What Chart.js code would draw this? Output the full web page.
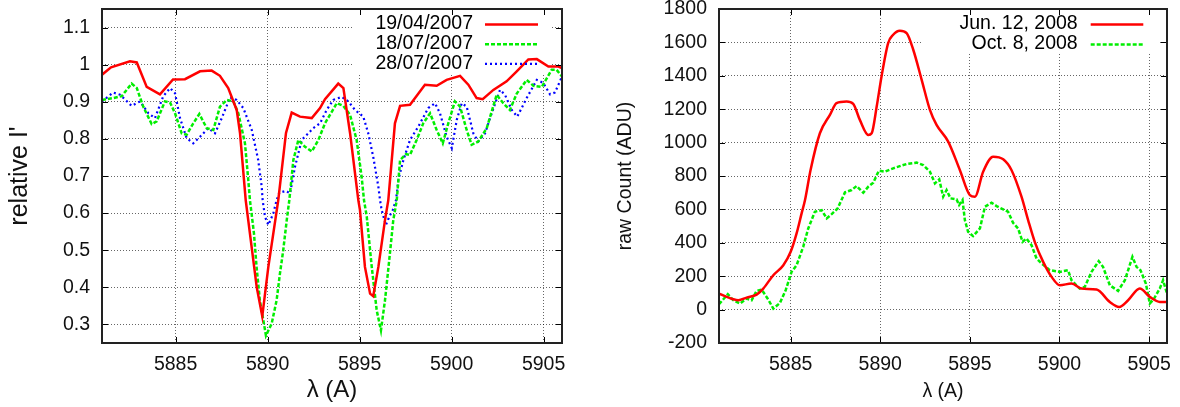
<!DOCTYPE html>
<html>
<head>
<meta charset="utf-8">
<script src="https://cdn.jsdelivr.net/npm/chart.js@4.4.0/dist/chart.umd.min.js"></script>
<style>
  html, body { margin: 0; padding: 0; background: #fff; }
  #wrap { position: relative; width: 1180px; height: 407px; }
  .panel { position: absolute; top: 0; width: 590px; height: 407px; }
</style>
</head>
<body>
<div id="wrap">
  <div class="panel" style="left:0"><canvas id="leftChart" width="590" height="407"></canvas></div>
  <div class="panel" style="left:590px"><canvas id="rightChart" width="590" height="407"></canvas></div>
</div>
<script>
// ---- data ----
const waveTicks = [5885, 5890, 5895, 5900, 5905];
const relTicks = [0.3, 0.4, 0.5, 0.6, 0.7, 0.8, 0.9, 1.0, 1.1];
const countTicks = [-200, 0, 200, 400, 600, 800, 1000, 1200, 1400, 1600, 1800];

// left panel: relative I'
const lamApr07 = [5881.0, 5881.49, 5882.52, 5882.89, 5883.43, 5884.15, 5884.86, 5885.51, 5886.33, 5886.96,
  5887.41, 5887.86, 5888.32, 5888.50, 5888.81, 5889.41, 5889.71, 5890.04, 5890.58, 5891.0,
  5891.31, 5891.76, 5892.40, 5892.85, 5893.12, 5893.84, 5894.12, 5894.48, 5894.93, 5895.02,
  5895.29, 5895.57, 5895.74, 5896.02, 5896.38, 5896.56, 5896.92, 5897.20, 5897.74, 5898.55,
  5899.19, 5899.73, 5900.46, 5900.91, 5901.36, 5901.69, 5902.27, 5902.99, 5903.54, 5904.17,
  5904.63, 5905.26, 5905.80, 5906.0];
const relApr07 = [0.973, 0.993, 1.009, 1.006, 0.94, 0.92, 0.96, 0.961, 0.982, 0.984,
  0.97, 0.937, 0.878, 0.816, 0.635, 0.40, 0.322, 0.455, 0.635, 0.816,
  0.871, 0.86, 0.856, 0.883, 0.907, 0.949, 0.937, 0.816, 0.635, 0.608,
  0.455, 0.383, 0.376, 0.455, 0.581, 0.635, 0.842, 0.889, 0.892, 0.946,
  0.943, 0.959, 0.97, 0.946, 0.91, 0.907, 0.932, 0.955, 0.982, 1.014,
  1.015, 0.995, 0.995, 0.991];

const lamJul18 = [5881.0, 5881.61, 5882.07, 5882.61, 5882.89, 5883.24, 5883.70, 5883.97, 5884.42, 5884.70,
  5884.97, 5885.33, 5885.60, 5885.96, 5886.29, 5886.69, 5887.05, 5887.41, 5887.78, 5888.14,
  5888.41, 5888.77, 5888.95, 5889.04, 5889.26, 5889.40, 5889.58, 5889.80, 5889.91, 5890.22,
  5890.49, 5890.67, 5890.85, 5891.04, 5891.18, 5891.40, 5891.67, 5892.03, 5892.40, 5892.76,
  5893.12, 5893.76, 5894.11, 5894.48, 5894.84, 5895.11, 5895.24, 5895.39, 5895.66, 5895.93,
  5896.16, 5896.38, 5896.61, 5896.83, 5897.02, 5897.20, 5897.52, 5897.74, 5898.10, 5898.46,
  5898.83, 5899.19, 5899.52, 5899.82, 5900.18, 5900.46, 5900.82, 5901.09, 5901.45, 5901.91,
  5902.45, 5902.81, 5903.17, 5903.54, 5904.08, 5904.45, 5904.90, 5905.44, 5905.71, 5906.0];
const relJul18 = [0.905, 0.91, 0.915, 0.949, 0.937, 0.887, 0.84, 0.847, 0.901, 0.898,
  0.869, 0.815, 0.811, 0.842, 0.867, 0.829, 0.824, 0.887, 0.905, 0.901,
  0.869, 0.788, 0.689, 0.635, 0.545, 0.455, 0.365, 0.302, 0.27, 0.302,
  0.365, 0.437, 0.5, 0.581, 0.635, 0.743, 0.797, 0.779, 0.766, 0.797,
  0.842, 0.896, 0.889, 0.865, 0.797, 0.698, 0.635, 0.59, 0.455, 0.338,
  0.284, 0.365, 0.473, 0.581, 0.635, 0.743, 0.759, 0.757, 0.797, 0.842,
  0.869, 0.824, 0.788, 0.842, 0.901, 0.887, 0.824, 0.784, 0.793, 0.829,
  0.919, 0.896, 0.878, 0.922, 0.959, 0.943, 0.94, 0.986, 0.986, 0.968];

const lamJul28 = [5881.0, 5881.61, 5881.98, 5882.61, 5883.07, 5883.52, 5883.88, 5884.33, 5884.70, 5884.97,
  5885.24, 5885.60, 5885.96, 5886.33, 5886.78, 5887.14, 5887.51, 5887.96, 5888.32, 5888.68,
  5889.14, 5889.49, 5889.68, 5889.73, 5889.86, 5890.04, 5890.31, 5890.49, 5890.64, 5891.0,
  5891.22, 5891.49, 5891.76, 5891.85, 5892.21, 5892.48, 5892.85, 5893.21, 5893.57, 5894.03,
  5894.39, 5894.75, 5895.20, 5895.47, 5895.74, 5896.02, 5896.11, 5896.20, 5896.43, 5896.61,
  5896.80, 5896.98, 5897.10, 5897.38, 5897.74, 5898.19, 5898.73, 5899.10, 5899.37, 5899.73,
  5900.01, 5900.28, 5900.55, 5900.82, 5901.18, 5901.45, 5901.82, 5902.18, 5902.63, 5902.90,
  5903.27, 5903.57, 5904.08, 5904.63, 5904.98, 5905.35, 5905.62, 5906.0];
const relJul28 = [0.901, 0.925, 0.919, 0.889, 0.901, 0.869, 0.856, 0.915, 0.937, 0.923,
  0.856, 0.802, 0.788, 0.806, 0.829, 0.815, 0.856, 0.912, 0.905, 0.883,
  0.824, 0.743, 0.671, 0.635, 0.59, 0.568, 0.599, 0.635, 0.655, 0.66,
  0.653, 0.725, 0.779, 0.797, 0.815, 0.829, 0.842, 0.878, 0.905, 0.913,
  0.901, 0.878, 0.86, 0.815, 0.752, 0.671, 0.635, 0.608, 0.568, 0.59,
  0.608, 0.635, 0.689, 0.743, 0.797, 0.833, 0.883, 0.896, 0.869, 0.806,
  0.775, 0.851, 0.896, 0.887, 0.815, 0.793, 0.815, 0.869, 0.932, 0.919,
  0.878, 0.86, 0.91, 0.959, 0.951, 0.92, 0.925, 0.968];

// right panel: raw count (ADU)
const lamJun08 = [5881.0, 5881.80, 5882.08, 5882.54, 5883.10, 5883.47, 5884.03, 5884.59, 5885.0, 5885.33,
  5885.61, 5885.80, 5886.11, 5886.63, 5887.19, 5887.56, 5888.12, 5888.49, 5888.86, 5889.33,
  5889.52, 5889.80, 5890.07, 5890.44, 5890.72, 5891.09, 5891.47, 5891.84, 5892.31, 5892.77,
  5893.14, 5893.79, 5894.44, 5895.0, 5895.28, 5895.74, 5896.30, 5896.86, 5897.32, 5897.88,
  5898.25, 5898.62, 5899.09, 5899.56, 5900.02, 5900.67, 5901.23, 5902.07, 5902.81, 5903.33,
  5903.83, 5904.48, 5905.04, 5905.60, 5906.0];
const cntJun08 = [96, 62, 56, 72, 90, 126, 206, 266, 346, 456,
  576, 656, 836, 1056, 1166, 1236, 1246, 1232, 1136, 1046,
  1056, 1216, 1396, 1596, 1646, 1670, 1656, 1556, 1376, 1196,
  1106, 1006, 836, 686, 676, 826, 916, 900, 836, 676,
  536, 406, 286, 196, 146, 156, 126, 120, 46, 16,
  56, 126, 76, 46, 46];

const lamOct08 = [5881.0, 5881.49, 5881.80, 5882.17, 5882.54, 5882.82, 5883.10, 5883.38, 5883.75, 5884.03,
  5884.40, 5884.72, 5885.05, 5885.33, 5885.70, 5885.98, 5886.35, 5886.73, 5887.01, 5887.29,
  5887.62, 5888.03, 5888.40, 5888.68, 5889.05, 5889.33, 5889.61, 5889.92, 5890.26, 5890.72,
  5891.47, 5892.03, 5892.39, 5892.77, 5893.05, 5893.29, 5893.51, 5893.70, 5893.92, 5894.26,
  5894.40, 5894.59, 5894.72, 5894.90, 5895.18, 5895.56, 5895.84, 5896.21, 5896.49, 5896.86,
  5897.13, 5897.41, 5897.69, 5897.94, 5898.16, 5898.44, 5898.72, 5899.0, 5899.46, 5900.02,
  5900.48, 5900.67, 5901.13, 5901.41, 5901.79, 5902.19, 5902.43, 5902.81, 5903.27, 5903.65,
  5904.07, 5904.30, 5904.52, 5904.82, 5905.04, 5905.28, 5905.60, 5905.78, 5906.0];
const cntOct08 = [32, 92, 56, 36, 66, 56, 112, 120, 60, 6,
  40, 116, 226, 266, 376, 486, 586, 596, 546, 572,
  606, 702, 716, 740, 700, 736, 760, 832, 826, 846,
  872, 880, 866, 826, 756, 780, 676, 716, 666, 660,
  626, 656, 536, 466, 440, 486, 616, 640, 620, 600,
  586, 520, 486, 406, 426, 386, 306, 276, 236, 226,
  236, 176, 126, 136, 226, 290, 256, 146, 112, 176,
  316, 256, 236, 156, 36, 66, 126, 176, 96];

// ---- helpers ----
const FONT = "'Liberation Sans', Arial, Helvetica, sans-serif";

function pts(xs, ys) {
  if (xs.length !== ys.length) throw new Error('length mismatch ' + xs.length + ' vs ' + ys.length);
  return xs.map((x, i) => ({ x: x, y: ys[i] }));
}

function fixTicks(values) {
  return function (scale) { scale.ticks = values.map(v => ({ value: v })); };
}

// gnuplot-like border, inward tick marks and key box
const gnuplotFrame = {
  id: 'gnuplotFrame',
  beforeDatasetsDraw(chart, args, opts) {
    const b = opts.keyBox;
    const ctx = chart.ctx;
    ctx.save();
    ctx.fillStyle = '#fff';
    ctx.fillRect(b.x0, b.y0, b.x1 - b.x0, b.y1 - b.y0);
    ctx.restore();
  },
  afterDraw(chart, args, opts) {
    const ctx = chart.ctx;
    const a = chart.chartArea;
    const sx = chart.scales.x, sy = chart.scales.y;
    ctx.save();
    // tick marks
    ctx.strokeStyle = '#000';
    ctx.lineWidth = 1;
    ctx.beginPath();
    sx.ticks.forEach(t => {
      const px = Math.round(sx.getPixelForValue(t.value)) + 0.5;
      ctx.moveTo(px, a.bottom); ctx.lineTo(px, a.bottom - 6);
      ctx.moveTo(px, a.top); ctx.lineTo(px, a.top + 6);
    });
    sy.ticks.forEach(t => {
      const py = Math.round(sy.getPixelForValue(t.value)) + 0.5;
      ctx.moveTo(a.left, py); ctx.lineTo(a.left + 6, py);
      ctx.moveTo(a.right, py); ctx.lineTo(a.right - 6, py);
    });
    ctx.stroke();
    // border
    ctx.strokeStyle = '#222';
    ctx.lineWidth = 2;
    ctx.strokeRect(a.left, a.top, a.right - a.left, a.bottom - a.top);
    // key
    const k = opts.key;
    ctx.font = k.size + 'px ' + FONT;
    ctx.fillStyle = '#000';
    ctx.textAlign = 'right';
    ctx.textBaseline = 'middle';
    chart.data.datasets.forEach((ds, i) => {
      const y = k.rows[i];
      ctx.fillText(ds.label, k.textRight, y);
      ctx.save();
      ctx.strokeStyle = ds.borderColor;
      ctx.lineWidth = ds.borderWidth;
      ctx.setLineDash(ds.borderDash || []);
      ctx.beginPath();
      ctx.moveTo(k.x0, y + 0.5);
      ctx.lineTo(k.x1, y + 0.5);
      ctx.stroke();
      ctx.restore();
    });
    ctx.restore();
  }
};

function makeChart(id, cfg) {
  return new Chart(document.getElementById(id), {
    type: 'line',
    data: { datasets: cfg.datasets },
    options: {
      responsive: false,
      animation: false,
      events: [],
      layout: { padding: { top: 9, right: cfg.padRight, left: 0, bottom: 0 } },
      elements: { point: { radius: 0 } },
      plugins: {
        legend: { display: false },
        tooltip: { enabled: false },
        gnuplotFrame: { keyBox: cfg.keyBox, key: cfg.key }
      },
      scales: {
        x: {
          type: 'linear',
          min: 5881, max: 5906,
          afterBuildTicks: fixTicks(waveTicks),
          afterFit(scale) { scale.height = 64; scale.paddingLeft = 0; scale.paddingRight = 0; },
          grid: { color: 'rgba(0,0,0,0.6)', lineWidth: 1, drawTicks: false },
          border: { display: false, dash: [1, 2] },
          ticks: { font: { family: FONT, size: 19.5 }, color: '#111', padding: 10, maxRotation: 0,
                   callback: v => String(v) },
          title: { display: true, text: 'λ (A)', color: '#111',
                   font: { family: FONT, size: cfg.xTitleSize, lineHeight: 1.2 }, padding: { bottom: cfg.xTitlePad, top: 0 } }
        },
        y: {
          type: 'linear',
          min: cfg.yMin, max: cfg.yMax,
          afterBuildTicks: fixTicks(cfg.yTicks),
          afterFit(scale) { scale.width = cfg.yWidth; scale.paddingTop = 0; scale.paddingBottom = 0; },
          grid: { color: 'rgba(0,0,0,0.6)', lineWidth: 1, drawTicks: false },
          border: { display: false, dash: [1, 2] },
          ticks: { font: { family: FONT, size: 19.5 }, color: '#111', padding: 12, callback: cfg.yFormat },
          title: { display: true, text: cfg.yTitle, color: '#111',
                   font: { family: FONT, size: cfg.yTitleSize, lineHeight: 1.2 }, padding: { top: cfg.yTitlePad, bottom: 0 } }
        }
      }
    },
    plugins: [gnuplotFrame]
  });
}

const RED = { borderColor: '#ff0000', borderWidth: 2.5, tension: 0, clip: 0 };
const GREEN = { borderColor: '#00ee00', borderWidth: 2.5, borderDash: [4, 2], tension: 0, clip: 0 };
const BLUE = { borderColor: '#0000ff', borderWidth: 2.2, borderDash: [2, 3], tension: 0, clip: 0 };

makeChart('leftChart', {
  datasets: [
    Object.assign({ label: '19/04/2007', data: pts(lamApr07, relApr07) }, RED),
    Object.assign({ label: '18/07/2007', data: pts(lamJul18, relJul18) }, GREEN),
    Object.assign({ label: '28/07/2007', data: pts(lamJul28, relJul28) }, BLUE)
  ],
  padRight: 28,
  yWidth: 102,
  yMin: 0.25, yMax: 1.15,
  yTicks: relTicks,
  yFormat: v => String(Math.round(v * 10) / 10),
  yTitle: "relative I'",
  yTitleSize: 25, yTitlePad: 5,
  xTitleSize: 24, xTitlePad: 2,
  keyBox: { x0: 353, x1: 550, y0: 10, y1: 73 },
  key: { size: 19.5, textRight: 473, x0: 485, x1: 538, rows: [24, 43.7, 63.3] }
});

makeChart('rightChart', {
  datasets: [
    Object.assign({ label: 'Jun. 12, 2008', data: pts(lamJun08, cntJun08) }, RED,
                  { cubicInterpolationMode: 'monotone' }),
    Object.assign({ label: 'Oct. 8, 2008', data: pts(lamOct08, cntOct08) }, GREEN)
  ],
  padRight: 13,
  yWidth: 129,
  yMin: -200, yMax: 1800,
  yTicks: countTicks,
  yFormat: v => String(v),
  yTitle: 'raw Count (ADU)',
  yTitleSize: 19.5, yTitlePad: 24,
  xTitleSize: 19.5, xTitlePad: 4,
  keyBox: { x0: 333, x1: 568, y0: 10, y1: 53 },
  key: { size: 19.5, textRight: 487.7, x0: 500.7, x1: 553.3, rows: [24, 44] }
});
</script>
</body>
</html>
